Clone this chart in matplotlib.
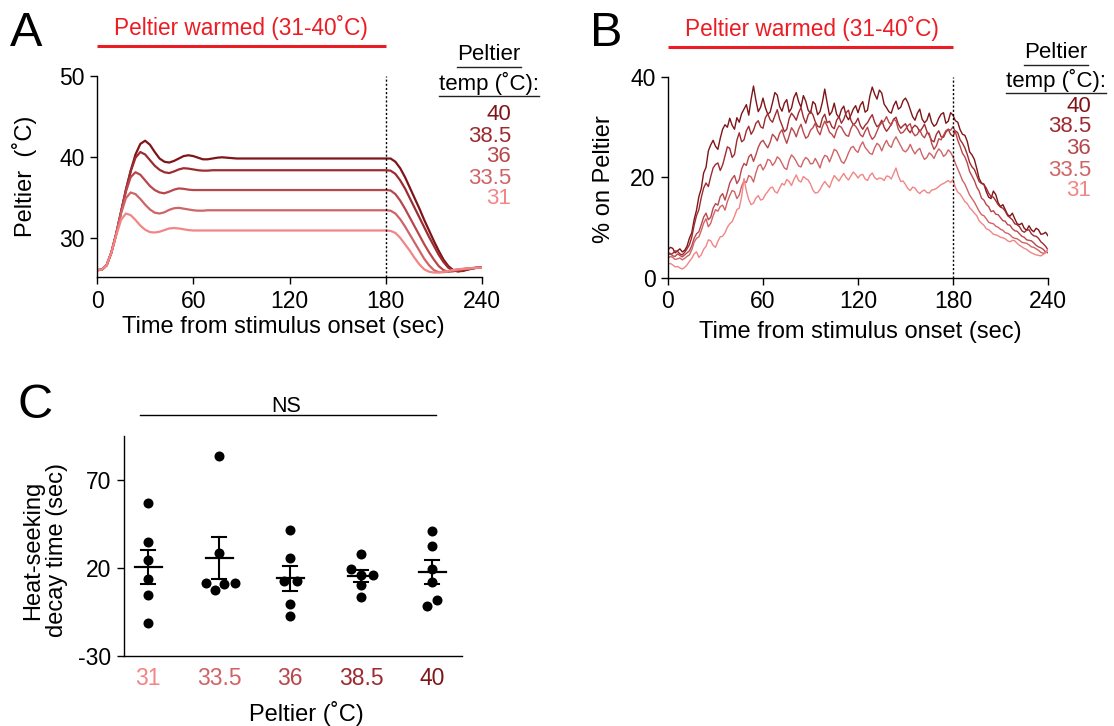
import numpy as np
import matplotlib
matplotlib.use('Agg')
import matplotlib.pyplot as plt
from matplotlib.lines import Line2D

plt.rcParams['font.family'] = ['Liberation Sans', 'DejaVu Sans']
plt.rcParams['font.size'] = 16
plt.rcParams['axes.linewidth'] = 1.0
plt.rcParams['axes.unicode_minus'] = False

W, H = 1114, 726

# peltier set points, hottest first
temps = ['40', '38.5', '36', '33.5', '31']
colors = ['#7e1518', '#9e2b30', '#b8474c', '#cf6467', '#f28585']
stim_on, stim_off = 0, 180

# ---- A: measured peltier temperature ----
tA = np.concatenate([np.arange(0, 91, 3), np.arange(100, 171, 10), np.arange(180, 241, 3)])
peltier_40 = [26.0, 26.05, 26.6, 28.2, 30.5, 33.2, 35.9, 38.3, 40.3, 41.6,
              42.0, 41.5, 40.6, 39.8, 39.4, 39.3, 39.5, 39.8, 40.1, 40.2,
              40.1, 39.9, 39.7, 39.7, 39.8, 39.9, 39.95, 39.9, 39.85, 39.8,
              39.8,
              39.8, 39.8, 39.8, 39.8, 39.8, 39.8, 39.8, 39.8,
              39.8, 39.8, 39.4, 38.6, 37.5, 36.2, 34.9, 33.6, 32.2, 30.9,
              29.6, 28.4, 27.3, 26.5, 26.0, 25.85, 25.9, 26.05, 26.2, 26.3,
              26.35]
peltier_38 = [26.0, 26.05, 26.6, 28.2, 30.5, 33.2, 35.9, 38.2, 39.9, 40.6,
              40.3, 39.6, 38.9, 38.4, 38.1, 38.0, 38.2, 38.45, 38.6, 38.55,
              38.45, 38.35, 38.3, 38.3, 38.35, 38.35, 38.35, 38.35, 38.35, 38.35,
              38.35,
              38.35, 38.35, 38.35, 38.35, 38.35, 38.35, 38.35, 38.35,
              38.35, 38.3, 37.9, 37.1, 36.1, 34.9, 33.7, 32.5, 31.3, 30.1,
              29.0, 27.9, 27.0, 26.3, 25.95, 25.85, 25.95, 26.1, 26.2, 26.3,
              26.35]
peltier_36 = [26.0, 26.05, 26.6, 28.2, 30.5, 33.2, 35.7, 37.5, 38.1, 37.8,
              37.1, 36.4, 35.9, 35.6, 35.5, 35.7, 35.95, 36.1, 36.05, 35.95,
              35.9, 35.9, 35.9, 35.9, 35.9, 35.9, 35.9, 35.9, 35.9, 35.9,
              35.9,
              35.9, 35.9, 35.9, 35.9, 35.9, 35.9, 35.9, 35.9,
              35.9, 35.85, 35.4, 34.6, 33.6, 32.5, 31.4, 30.3, 29.2, 28.2,
              27.3, 26.5, 26.0, 25.8, 25.85, 26.0, 26.1, 26.2, 26.25, 26.3,
              26.3]
peltier_33 = [26.0, 26.05, 26.6, 28.2, 30.5, 33.0, 34.9, 35.6, 35.4, 34.8,
              34.1, 33.5, 33.1, 33.0, 33.15, 33.45, 33.65, 33.7, 33.6, 33.5,
              33.4, 33.35, 33.35, 33.4, 33.4, 33.4, 33.4, 33.4, 33.4, 33.4,
              33.4,
              33.4, 33.4, 33.4, 33.4, 33.4, 33.4, 33.4, 33.4,
              33.4, 33.35, 33.0, 32.3, 31.4, 30.4, 29.4, 28.4, 27.4, 26.6,
              26.0, 25.75, 25.75, 25.85, 26.0, 26.1, 26.15, 26.2, 26.25, 26.3,
              26.3]
peltier_31 = [26.0, 26.05, 26.6, 28.2, 30.3, 32.2, 33.0, 32.8, 32.2, 31.5,
              31.0, 30.7, 30.65, 30.75, 30.95, 31.15, 31.2, 31.15, 31.05, 30.95,
              30.9, 30.9, 30.9, 30.9, 30.9, 30.9, 30.9, 30.9, 30.9, 30.9,
              30.9,
              30.9, 30.9, 30.9, 30.9, 30.9, 30.9, 30.9, 30.9,
              30.9, 30.85, 30.6, 30.0, 29.2, 28.4, 27.5, 26.7, 26.1, 25.8,
              25.7, 25.7, 25.8, 25.9, 26.0, 26.1, 26.15, 26.2, 26.25, 26.3,
              26.3]
peltier = [peltier_40, peltier_38, peltier_36, peltier_33, peltier_31]

# ---- B: percent of flies on the peltier, sampled every 1.5 s ----
tB = np.arange(0, 240.1, 1.5)
on_40 = [5.6, 6.1, 5.9, 5.0, 5.4, 5.8, 5.2, 5.5, 6.3, 7.9, 9.0, 11.6, 13.5, 16.2, 17.8, 20.9, 22.0, 25.3, 26.5, 27.4,
         26.2, 25.6, 27.8, 29.6, 30.5, 30.0, 31.8, 30.4, 29.6, 31.9, 31.0, 32.7, 33.6, 34.5, 32.4, 35.6, 38.2, 35.4, 33.1, 34.0,
         35.8, 33.9, 32.6, 33.0, 34.9, 36.9, 36.4, 34.1, 33.2, 34.8, 35.5, 33.0, 33.8, 35.9, 36.9, 35.1, 34.0, 36.3, 35.2, 33.4,
         32.8, 35.1, 34.6, 32.5, 33.1, 35.0, 37.6, 34.9, 32.4, 33.1, 34.8, 32.6, 31.9, 33.5, 34.2, 32.3, 31.5, 32.4, 33.6, 34.3,
         32.9, 34.4, 35.1, 33.0, 33.4, 36.2, 38.0, 36.6, 35.6, 37.4, 36.8, 34.6, 33.9, 33.1, 32.8, 34.3, 35.2, 33.6, 34.0, 35.3,
         35.8, 34.9, 33.5, 32.1, 31.4, 32.8, 33.6, 31.6, 30.9, 31.4, 32.8, 31.0, 30.2, 30.6, 31.8, 32.6, 32.9, 30.8, 31.2, 32.9,
         32.4, 31.3, 31.0, 29.5, 28.6, 28.4, 27.2, 25.1, 24.5, 23.6, 21.8, 19.8, 18.9, 18.7, 17.2, 16.1, 15.8, 17.3, 16.6, 15.0,
         14.2, 14.6, 13.6, 12.6, 12.3, 12.9, 11.8, 10.8, 10.6, 10.9, 9.9, 9.5, 10.4, 9.6, 9.2, 9.9, 9.6, 8.7, 8.8, 9.1,
         8.4]
on_38 = [5.2, 4.7, 4.9, 5.4, 5.3, 4.8, 4.6, 5.1, 5.8, 6.6, 8.1, 10.5, 12.4, 13.6, 16.0, 17.9, 18.9, 18.2, 20.2, 21.9,
         22.6, 22.9, 21.4, 22.5, 24.3, 26.1, 25.8, 24.0, 24.6, 27.4, 28.9, 27.1, 27.5, 29.3, 30.2, 28.6, 29.4, 30.8, 31.3, 30.1,
         29.8, 31.9, 32.7, 31.5, 31.0, 32.3, 33.5, 31.6, 30.4, 29.1, 29.6, 31.7, 32.8, 32.2, 31.4, 32.9, 33.9, 32.0, 30.8, 32.4,
         33.2, 32.5, 31.1, 30.2, 30.0, 31.8, 32.6, 30.9, 31.2, 30.1, 29.7, 31.4, 32.1, 30.8, 31.6, 32.9, 33.4, 31.4, 30.5, 30.9,
         31.8, 30.3, 29.6, 30.4, 30.9, 31.8, 32.5, 31.0, 30.1, 30.5, 31.4, 30.0, 29.2, 29.8, 30.6, 31.6, 32.0, 30.6, 29.8, 30.3,
         30.7, 29.5, 28.9, 29.9, 30.4, 30.0, 29.1, 29.8, 30.6, 29.2, 28.4, 27.4, 27.1, 28.6, 29.3, 28.1, 28.0, 29.0, 29.6, 28.6,
         28.2, 29.3, 28.9, 27.5, 26.8, 25.9, 24.6, 23.0, 22.1, 21.6, 20.4, 19.2, 18.8, 18.6, 17.9, 16.9, 16.2, 16.1, 15.4, 14.6,
         14.1, 13.9, 13.3, 12.4, 12.0, 11.6, 10.8, 10.6, 10.2, 9.4, 9.1, 9.5, 9.6, 8.8, 8.4, 8.3, 7.9, 7.2, 6.8, 6.3,
         5.6]
on_36 = [4.6, 4.9, 4.4, 4.3, 4.8, 4.5, 4.2, 4.6, 5.0, 5.4, 6.4, 7.9, 8.8, 9.2, 10.6, 12.1, 12.9, 11.6, 12.1, 13.9,
         14.8, 14.5, 16.2, 16.8, 15.5, 17.1, 18.9, 19.8, 20.4, 18.8, 19.6, 21.7, 22.8, 22.4, 24.1, 24.6, 23.2, 24.5, 26.0, 27.0,
         27.4, 26.6, 25.9, 27.0, 28.6, 28.1, 27.3, 28.8, 29.5, 28.0, 26.8, 28.3, 29.9, 29.2, 28.1, 29.6, 30.6, 29.0, 27.8, 28.2,
         29.4, 29.9, 30.8, 29.3, 28.5, 30.1, 31.2, 30.3, 29.0, 28.6, 27.9, 29.4, 30.3, 30.0, 29.1, 28.4, 28.2, 29.7, 30.6, 30.2,
         29.5, 28.5, 28.1, 29.2, 30.0, 28.5, 27.6, 28.1, 29.2, 30.3, 30.9, 31.2, 32.1, 31.0, 30.4, 31.6, 31.3, 29.6, 28.8, 29.0,
         29.6, 30.3, 30.7, 29.0, 28.3, 28.6, 29.5, 28.4, 27.9, 28.9, 28.8, 26.8, 25.6, 26.3, 27.7, 27.5, 28.4, 29.3, 29.6, 29.4,
         30.1, 29.1, 27.4, 26.2, 24.8, 24.1, 22.9, 21.2, 20.3, 19.4, 18.1, 17.3, 15.9, 15.5, 14.6, 14.2, 13.2, 13.4, 12.7, 12.6,
         12.0, 11.4, 11.3, 10.6, 10.5, 9.8, 9.4, 9.3, 8.8, 8.3, 8.1, 7.6, 7.5, 7.4, 7.0, 6.5, 6.2, 6.0, 5.7, 5.2,
         5.0]
on_33 = [3.9, 4.3, 4.1, 3.7, 3.8, 4.0, 3.6, 3.9, 4.3, 4.6, 5.6, 7.1, 7.9, 8.2, 9.4, 10.9, 11.8, 10.2, 10.9, 12.4,
         13.6, 13.3, 14.2, 14.5, 13.5, 15.2, 16.4, 17.4, 17.2, 15.8, 16.5, 18.3, 19.3, 19.0, 20.4, 20.1, 19.1, 20.9, 22.3, 22.6,
         21.5, 22.3, 23.6, 23.4, 22.4, 23.0, 24.1, 23.7, 22.8, 21.9, 21.6, 23.4, 24.5, 24.0, 23.2, 22.3, 22.1, 23.3, 24.0, 23.6,
         22.7, 22.8, 23.8, 22.9, 21.9, 23.5, 24.4, 24.2, 23.1, 24.3, 25.6, 25.3, 24.3, 23.2, 22.8, 23.7, 24.9, 25.9, 26.2, 25.4,
         25.0, 26.3, 27.1, 26.0, 25.4, 24.8, 24.6, 25.9, 26.8, 26.4, 25.3, 26.5, 27.4, 26.4, 26.0, 27.3, 28.1, 27.2, 26.3, 25.4,
         25.1, 25.6, 26.6, 25.5, 24.7, 25.4, 25.8, 24.5, 23.6, 24.0, 24.9, 24.5, 23.8, 24.9, 25.7, 25.2, 24.2, 24.6, 25.5, 25.0,
         24.1, 22.8, 21.7, 20.6, 19.4, 18.7, 17.6, 16.5, 15.8, 15.1, 14.2, 13.3, 12.6, 12.4, 11.8, 11.1, 10.9, 10.8, 10.3, 10.1,
         9.7, 9.5, 9.0, 8.9, 8.6, 8.1, 7.9, 7.8, 7.5, 7.1, 7.0, 6.9, 6.6, 6.2, 6.1, 5.8, 5.5, 5.1, 4.9, 5.1,
         5.7]
on_31 = [2.8, 2.9, 2.6, 2.2, 2.3, 2.0, 1.8, 2.1, 2.6, 3.3, 3.9, 4.8, 5.2, 4.1, 4.6, 5.7, 6.3, 7.6, 7.4, 6.5,
         6.1, 7.3, 8.2, 8.3, 9.0, 10.1, 10.8, 11.2, 12.3, 13.6, 13.9, 16.2, 19.8, 17.3, 15.6, 14.6, 14.9, 15.9, 16.4, 15.5,
         15.7, 16.6, 17.2, 17.9, 18.1, 17.2, 16.9, 17.9, 18.8, 18.5, 19.6, 19.2, 18.4, 19.6, 20.5, 19.4, 19.1, 20.2, 19.8, 19.5,
         18.7, 17.5, 16.9, 17.0, 17.6, 18.5, 19.2, 18.6, 18.0, 19.3, 20.4, 19.8, 19.3, 20.1, 20.8, 20.0, 19.5, 20.3, 21.1, 20.6,
         19.9, 20.5, 20.6, 19.7, 19.4, 20.4, 20.9, 20.0, 19.6, 19.9, 19.8, 19.4, 20.3, 20.2, 19.7, 20.8, 21.9, 20.3, 19.2, 19.3,
         18.6, 17.8, 17.4, 18.1, 17.9, 17.2, 16.8, 17.3, 17.5, 17.0, 16.9, 17.5, 17.6, 17.8, 18.2, 18.6, 18.8, 19.1, 19.4, 19.0,
         19.6, 18.0, 17.1, 16.7, 16.0, 15.2, 14.8, 14.0, 13.5, 12.9, 12.4, 11.4, 10.9, 10.5, 9.8, 9.6, 9.2, 8.7, 8.6, 8.4,
         8.1, 8.0, 7.8, 7.4, 7.2, 7.5, 7.4, 6.9, 6.5, 6.2, 5.9, 5.7, 5.3, 5.0, 4.8, 4.6, 4.5, 4.4, 4.7, 5.0,
         5.6]
on_peltier = [on_40, on_38, on_36, on_33, on_31]

# ---- C: heat-seeking decay time per fly group (sec) ----
c_temps = ['31', '33.5', '36', '38.5', '40']
c_colors = colors[::-1]
decay_31 = [56.8, 34.6, 24.7, 13.5, 4.4, -11.5]
decay_33 = [83.8, 28.7, 11.6, 11.6, 7.7, 11.0]
decay_36 = [41.6, 25.7, 12.4, 12.4, -0.3, -7.5]
decay_38 = [27.8, 19.6, 16.2, 16.2, 10.5, 3.5]
decay_40 = [40.9, 32.5, 19.6, 12.0, 1.6, -1.4]
decay = [decay_31, decay_33, decay_36, decay_38, decay_40]
# sideways spread so overlapping dots stay visible
spread = [[0, 0, 0, 0, 0, 0],
          [0, 0, -0.19, 0.22, -0.06, 0.07],
          [0, 0, -0.09, 0.09, 0, 0],
          [0, -0.15, 0.16, 0, 0, 0],
          [0, 0, 0, 0, 0.07, -0.07]]

fig = plt.figure(figsize=(W / 100, H / 100), dpi=100)
FS = 17


def rect(x0, y_top, x1, y_bot):
    return [x0 / W, 1 - y_bot / H, (x1 - x0) / W, (y_bot - y_top) / H]


def style(ax):
    for s in ['top', 'right']:
        ax.spines[s].set_visible(False)
    ax.tick_params(direction='out', length=5, width=1, pad=4, labelsize=16.5)


def stim_bar(ax, xtext):
    tr = ax.get_xaxis_transform()
    ax.plot([stim_on, stim_off], [1.147, 1.147], color='#ec1c24', lw=2.2,
            transform=tr, clip_on=False, solid_capstyle='butt')
    ax.text(xtext, 1.24, 'Peltier warmed (31-40˚C)', color='#ec1c24',
            transform=tr, ha='center', va='center', fontsize=16.3)


underline = []


def temp_key(xc, xr, y_head, y_nums):
    t1 = fig.text(xc / W, 1 - y_head[0] / H, 'Peltier', ha='center', va='center', fontsize=16)
    t2 = fig.text(xc / W, 1 - y_head[1] / H, 'temp (˚C):', ha='center', va='center', fontsize=16)
    underline.extend([t1, t2])
    for lab, col, y in zip(temps, colors, y_nums):
        fig.text(xr / W, 1 - y / H, lab, color=col, ha='right', va='center', fontsize=16)


# panel A
axA = fig.add_axes(rect(97, 76, 482, 277))
for y, col in zip(peltier, colors):
    axA.plot(tA, y, color=col, lw=1.6)
axA.axvline(stim_off, color='k', lw=1, ls=(0, (1.5, 1.5)))
axA.set_xlim(0, 240)
axA.set_ylim(25.15, 50)
axA.set_xticks([0, 60, 120, 180, 240])
axA.set_yticks([30, 40, 50])
style(axA)
axA.set_xlabel('Time from stimulus onset (sec)', fontsize=FS)
axA.xaxis.set_label_coords(0.483, -0.194)
axA.set_ylabel('Peltier  (˚C)', fontsize=FS)
axA.yaxis.set_label_coords(-0.156, 0.5)
stim_bar(axA, 90)
temp_key(489, 511, (55, 83), (115, 136, 157, 178, 199))

# panel B
axB = fig.add_axes(rect(668, 77, 1048, 278))
for y, col in zip(on_peltier, colors):
    axB.plot(tB, y, color=col, lw=1.0)
axB.axvline(stim_off, color='k', lw=1, ls=(0, (1.5, 1.5)))
axB.set_xlim(0, 240)
axB.set_ylim(0, 40)
axB.set_xticks([0, 60, 120, 180, 240])
axB.set_yticks([0, 20, 40])
style(axB)
axB.set_xlabel('Time from stimulus onset (sec)', fontsize=FS)
axB.xaxis.set_label_coords(0.505, -0.214)
axB.set_ylabel('% on Peltier', fontsize=FS)
axB.yaxis.set_label_coords(-0.139, 0.49)
stim_bar(axB, 91)
temp_key(1056, 1091, (53, 80), (106, 127, 148, 170, 191))

# panel C
axC = fig.add_axes(rect(124, 436, 462, 656))
for i, (vals, dx) in enumerate(zip(decay, spread)):
    vals = np.array(vals)
    m = vals.mean()
    sem = vals.std(ddof=1) / np.sqrt(len(vals))
    axC.scatter(i + np.array(dx), vals, s=52, color='k', zorder=3, linewidths=0)
    axC.plot([i - 0.19, i + 0.19], [m, m], color='k', lw=1.6, zorder=4)
    axC.plot([i, i], [m - sem, m + sem], color='k', lw=1.5, zorder=4)
    for e in (m - sem, m + sem):
        axC.plot([i - 0.1, i + 0.1], [e, e], color='k', lw=1.5, zorder=4)
axC.set_xlim(-0.34, 4.42)
axC.set_ylim(-30, 95)
axC.set_yticks([-30, 20, 70])
axC.set_xticks(range(5))
axC.set_xticklabels(c_temps)
style(axC)
axC.tick_params(axis='x', length=0, pad=8)
for lab, col in zip(axC.get_xticklabels(), c_colors):
    lab.set_color(col)
axC.set_xlabel('Peltier (˚C)', fontsize=FS)
axC.xaxis.set_label_coords(0.541, -0.205)
axC.set_ylabel('Heat-seeking\ndecay time (sec)', fontsize=FS, linespacing=1.1)
axC.yaxis.set_label_coords(-0.166, 0.48)
axC.plot([-0.11, 4.06], [107, 107], color='k', lw=1.0, clip_on=False)
axC.text(1.95, 112, 'NS', ha='center', va='center', fontsize=15.5)

# panel letters
for lab, x, y in [('A', 26, 33), ('B', 606, 33), ('C', 35, 406)]:
    fig.text(x / W, 1 - y / H, lab, ha='center', va='center', fontsize=35)

# underline the key headers
fig.canvas.draw()
r = fig.canvas.get_renderer()
for t in underline:
    bb = t.get_window_extent(r)
    y = bb.y0 - 1
    fig.add_artist(Line2D([bb.x0 / W, bb.x1 / W], [y / H, y / H], color='#222222', lw=1.0,
                          transform=fig.transFigure))

fig.savefig('out.png', dpi=100)
